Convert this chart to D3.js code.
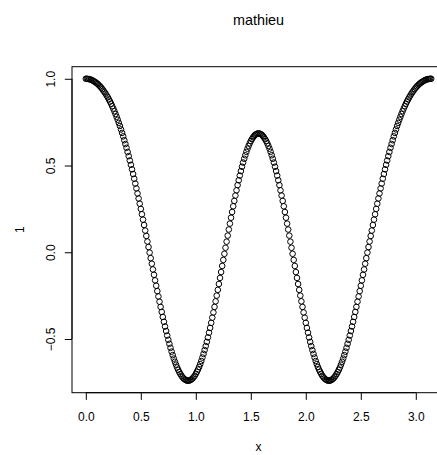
<!DOCTYPE html>
<html>
<head>
<meta charset="utf-8">
<script src="https://cdn.jsdelivr.net/npm/d3@7/dist/d3.min.js"></script>
<style>
  body { margin: 0; background: #fff; }
  svg { display: block; font-family: "Liberation Sans", Arial, Helvetica, sans-serif; }
</style>
</head>
<body>
<div class="chart"></div>
<script>
/* chart texts */
const titleText = "mathieu";
const xLabel = "x";
const yLabel = "1";

/* tick values */
const xTicks = [0, 0.5, 1, 1.5, 2, 2.5, 3];
const yTicks = [-0.5, 0, 0.5, 1];

/* x grid: seq(0, pi, by = 0.01) */
const xValues = d3.range(0, 315).map(i => i / 100);

/* function values */
const yValues = [
  1.000, 1.000, 0.999, 0.998, 0.996, 0.994, 0.991, 0.987, 0.983, 0.979,
  0.974, 0.969, 0.962, 0.956, 0.949, 0.941, 0.932, 0.923, 0.914, 0.903,
  0.893, 0.881, 0.869, 0.856, 0.842, 0.828, 0.813, 0.797, 0.781, 0.764,
  0.746, 0.728, 0.708, 0.688, 0.668, 0.646, 0.624, 0.602, 0.578, 0.554,
  0.529, 0.504, 0.478, 0.451, 0.424, 0.396, 0.368, 0.339, 0.310, 0.280,
  0.250, 0.219, 0.188, 0.157, 0.125, 0.094, 0.062, 0.030, -0.002, -0.034,
  -0.066, -0.099, -0.130, -0.162, -0.193, -0.224, -0.255, -0.285, -0.315, -0.344,
  -0.373, -0.401, -0.428, -0.454, -0.480, -0.505, -0.528, -0.551, -0.573, -0.593,
  -0.613, -0.631, -0.648, -0.664, -0.678, -0.691, -0.702, -0.712, -0.721, -0.728,
  -0.733, -0.737, -0.740, -0.740, -0.740, -0.737, -0.733, -0.728, -0.720, -0.712,
  -0.701, -0.689, -0.676, -0.661, -0.645, -0.627, -0.607, -0.586, -0.564, -0.541,
  -0.517, -0.491, -0.464, -0.436, -0.407, -0.377, -0.347, -0.315, -0.283, -0.250,
  -0.217, -0.183, -0.148, -0.114, -0.079, -0.044, -0.009, 0.026, 0.061, 0.096,
  0.131, 0.165, 0.199, 0.232, 0.265, 0.296, 0.327, 0.357, 0.387, 0.415,
  0.442, 0.468, 0.493, 0.517, 0.539, 0.559, 0.579, 0.597, 0.613, 0.628,
  0.641, 0.652, 0.662, 0.670, 0.677, 0.681, 0.684, 0.685, 0.684, 0.681,
  0.677, 0.670, 0.662, 0.652, 0.641, 0.628, 0.613, 0.597, 0.579, 0.559,
  0.539, 0.517, 0.493, 0.468, 0.442, 0.415, 0.387, 0.357, 0.327, 0.296,
  0.265, 0.232, 0.199, 0.165, 0.131, 0.096, 0.061, 0.026, -0.009, -0.044,
  -0.079, -0.114, -0.148, -0.183, -0.217, -0.250, -0.283, -0.315, -0.347, -0.377,
  -0.407, -0.436, -0.464, -0.491, -0.517, -0.541, -0.564, -0.586, -0.607, -0.627,
  -0.645, -0.661, -0.676, -0.689, -0.701, -0.712, -0.720, -0.728, -0.733, -0.737,
  -0.740, -0.740, -0.740, -0.737, -0.733, -0.728, -0.721, -0.712, -0.702, -0.691,
  -0.678, -0.664, -0.648, -0.631, -0.613, -0.593, -0.573, -0.551, -0.528, -0.505,
  -0.480, -0.454, -0.428, -0.401, -0.373, -0.344, -0.315, -0.285, -0.255, -0.224,
  -0.193, -0.162, -0.130, -0.099, -0.066, -0.034, -0.002, 0.030, 0.062, 0.094,
  0.125, 0.157, 0.188, 0.219, 0.250, 0.280, 0.310, 0.339, 0.368, 0.396,
  0.424, 0.451, 0.478, 0.504, 0.529, 0.554, 0.578, 0.602, 0.624, 0.646,
  0.668, 0.688, 0.708, 0.728, 0.746, 0.764, 0.781, 0.797, 0.813, 0.828,
  0.842, 0.856, 0.869, 0.881, 0.893, 0.903, 0.914, 0.923, 0.932, 0.941,
  0.949, 0.956, 0.962, 0.969, 0.974, 0.979, 0.983, 0.987, 0.991, 0.994,
  0.996, 0.998, 0.999, 1.000, 1.000
];

/* function to draw the scatter plot */
function createChart() {
  const points = xValues.map((x, i) => ({x: x, y: yValues[i]}));

  /* page and plot region (the box runs past the right edge, as in the picture) */
  const width = 437;
  const height = 455;
  const margin = {top: 66.7, right: -8, bottom: 62.3, left: 72};
  const plotW = width - margin.left - margin.right;
  const plotH = height - margin.top - margin.bottom;

  const svg = d3.select(".chart")
    .append("svg")
    .attr("width", width)
    .attr("height", height);

  const g = svg.append("g")
    .attr("transform", `translate(${margin.left},${margin.top})`);

  /* R style limits: data range padded by 4% */
  const xExt = d3.extent(xValues);
  const yExt = d3.extent(yValues);
  const xPad = (xExt[1] - xExt[0]) * 0.04;
  const yPad = (yExt[1] - yExt[0]) * 0.04;

  const xScale = d3.scaleLinear()
    .domain([xExt[0] - xPad, xExt[1] + xPad])
    .range([0, plotW]);

  const yScale = d3.scaleLinear()
    .domain([yExt[0] - yPad, yExt[1] + yPad])
    .range([plotH, 0]);

  /* open circles */
  g.append("g")
    .selectAll("circle")
    .data(points)
    .enter()
    .append("circle")
    .attr("cx", d => xScale(d.x))
    .attr("cy", d => yScale(d.y))
    .attr("r", 2.8)
    .style("fill", "none")
    .style("stroke", "black")
    .style("stroke-width", 1);

  /* box round the plot */
  g.append("rect")
    .attr("x", 0)
    .attr("y", 0)
    .attr("width", plotW)
    .attr("height", plotH)
    .style("fill", "none")
    .style("stroke", "black")
    .style("stroke-width", 1);

  const fmt = d3.format(".1f");

  /* x axis */
  const xAxis = g.append("g")
    .attr("transform", `translate(0,${plotH})`)
    .call(d3.axisBottom(xScale).tickValues(xTicks).tickFormat(fmt).tickSize(7.2).tickSizeOuter(0));
  xAxis.select(".domain").remove();
  xAxis.append("line")
    .attr("x1", xScale(xTicks[0]))
    .attr("x2", xScale(xTicks[xTicks.length - 1]))
    .style("stroke", "black");
  xAxis.selectAll(".tick text")
    .attr("y", 28)
    .attr("dy", null)
    .style("font-size", "12px")
    .style("font-family", "'Liberation Sans', Arial, sans-serif")
    .style("fill", "black");

  /* y axis, labels parallel to the axis */
  const yAxis = g.append("g")
    .call(d3.axisLeft(yScale).tickValues(yTicks).tickFormat(d => fmt(d).replace("-", "\u2212")).tickSize(7.2).tickSizeOuter(0));
  yAxis.select(".domain").remove();
  yAxis.append("line")
    .attr("y1", yScale(yTicks[0]))
    .attr("y2", yScale(yTicks[yTicks.length - 1]))
    .style("stroke", "black");
  yAxis.selectAll(".tick text")
    .attr("x", null)
    .attr("dy", null)
    .attr("text-anchor", "middle")
    .attr("transform", "translate(-17,0) rotate(-90)")
    .style("font-size", "12px")
    .style("font-family", "'Liberation Sans', Arial, sans-serif")
    .style("fill", "black");

  /* title */
  svg.append("text")
    .attr("x", margin.left + plotW / 2)
    .attr("y", 25)
    .attr("text-anchor", "middle")
    .style("font-size", "14.4px")
    .text(titleText);

  /* x axis label */
  svg.append("text")
    .attr("x", margin.left + plotW / 2)
    .attr("y", margin.top + plotH + 58)
    .attr("text-anchor", "middle")
    .style("font-size", "12px")
    .text(xLabel);

  /* y axis label */
  svg.append("text")
    .attr("transform", `translate(${margin.left - 48},${margin.top + plotH / 2}) rotate(-90)`)
    .attr("text-anchor", "middle")
    .style("font-size", "12px")
    .text(yLabel);
}

createChart();
</script>
</body>
</html>
